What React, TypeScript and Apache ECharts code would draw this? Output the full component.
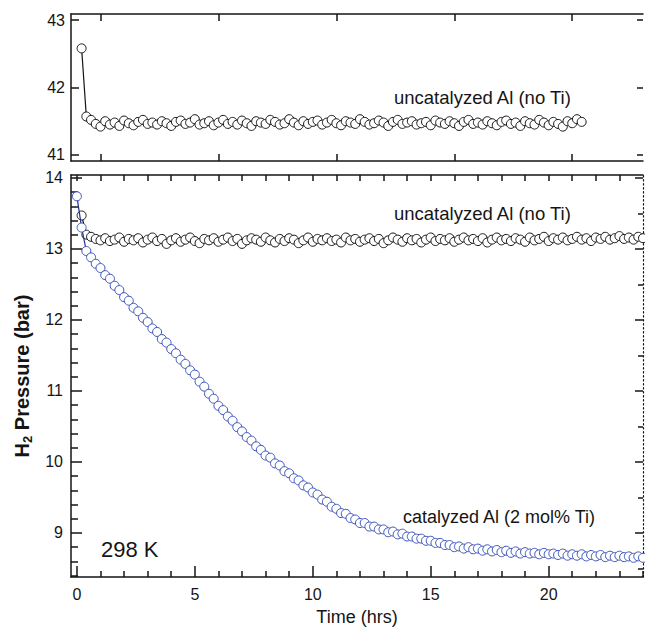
import React, { useEffect, useRef } from "react";
import * as echarts from "echarts";

// Time grid (hrs)
const TIME = [
  0, 0.2, 0.4, 0.6, 0.8, 1.0, 1.2, 1.4, 1.6, 1.8, 2.0, 2.2, 2.4, 2.6, 2.8, 3.0, 3.2, 3.4, 3.6, 3.8,
  4.0, 4.2, 4.4, 4.6, 4.8, 5.0, 5.2, 5.4, 5.6, 5.8, 6.0, 6.2, 6.4, 6.6, 6.8, 7.0, 7.2, 7.4, 7.6, 7.8,
  8.0, 8.2, 8.4, 8.6, 8.8, 9.0, 9.2, 9.4, 9.6, 9.8, 10.0, 10.2, 10.4, 10.6, 10.8, 11.0, 11.2, 11.4, 11.6, 11.8,
  12.0, 12.2, 12.4, 12.6, 12.8, 13.0, 13.2, 13.4, 13.6, 13.8, 14.0, 14.2, 14.4, 14.6, 14.8, 15.0, 15.2, 15.4, 15.6, 15.8,
  16.0, 16.2, 16.4, 16.6, 16.8, 17.0, 17.2, 17.4, 17.6, 17.8, 18.0, 18.2, 18.4, 18.6, 18.8, 19.0, 19.2, 19.4, 19.6, 19.8,
  20.0, 20.2, 20.4, 20.6, 20.8, 21.0, 21.2, 21.4, 21.6, 21.8, 22.0, 22.2, 22.4, 22.6, 22.8, 23.0, 23.2, 23.4, 23.6, 23.8,
  24.0,
];

// Top panel: uncatalyzed Al (no Ti), higher pressure run
const TOP_UNCAT = [
  null, 42.58, 41.57,
  41.52, 41.46, 41.42, 41.50, 41.45, 41.48, 41.43, 41.51, 41.47, 41.44,
  41.49, 41.52, 41.46, 41.48, 41.45, 41.50, 41.47, 41.43, 41.49, 41.51,
  41.46, 41.48, 41.53, 41.45, 41.47, 41.50, 41.44, 41.48, 41.52, 41.46,
  41.49, 41.45, 41.51, 41.47, 41.43, 41.50, 41.48, 41.46, 41.52, 41.49,
  41.45, 41.47, 41.53, 41.48, 41.44, 41.50, 41.46, 41.49, 41.51, 41.45,
  41.48, 41.52, 41.47, 41.44, 41.50, 41.48, 41.46, 41.53, 41.49, 41.45,
  41.47, 41.51, 41.48, 41.43, 41.49, 41.52, 41.46, 41.48, 41.50, 41.45,
  41.47, 41.49, 41.44, 41.51, 41.48, 41.46, 41.50, 41.47, 41.43, 41.49,
  41.52, 41.46, 41.48, 41.45, 41.50, 41.47, 41.44, 41.49, 41.51, 41.46,
  41.48, 41.43, 41.50, 41.47, 41.45, 41.52, 41.48, 41.44, 41.49, 41.46,
  41.42, 41.50, 41.47, 41.53, 41.49,
];

// Bottom panel: uncatalyzed Al (no Ti)
const BOT_UNCAT = [
  null, 13.47, 13.2,
  13.17, 13.14, 13.12, 13.15, 13.11, 13.13, 13.16, 13.10, 13.14, 13.12,
  13.15, 13.09, 13.13, 13.16, 13.11, 13.14, 13.07, 13.12, 13.15, 13.10,
  13.13, 13.16, 13.11, 13.08, 13.14, 13.12, 13.15, 13.10, 13.13, 13.16,
  13.11, 13.14, 13.07, 13.12, 13.15, 13.13, 13.10, 13.16, 13.12, 13.09,
  13.14, 13.11, 13.15, 13.13, 13.08, 13.12, 13.16, 13.10, 13.14, 13.12,
  13.15, 13.11, 13.13, 13.09, 13.16, 13.12, 13.14, 13.10, 13.13, 13.15,
  13.11, 13.14, 13.08, 13.12, 13.16, 13.13, 13.10, 13.15, 13.12, 13.14,
  13.09, 13.13, 13.16, 13.11, 13.14, 13.12, 13.15, 13.10, 13.13, 13.16,
  13.12, 13.14, 13.11, 13.15, 13.09, 13.13, 13.16, 13.12, 13.14, 13.11,
  13.15, 13.13, 13.10, 13.16, 13.12, 13.14, 13.17, 13.11, 13.15, 13.13,
  13.16, 13.12, 13.14, 13.17, 13.13, 13.15, 13.11, 13.16, 13.14, 13.17,
  13.13, 13.15, 13.18, 13.14, 13.16, 13.13, 13.17, 13.15,
];

// Bottom panel: catalyzed Al (2 mol% Ti)
const BOT_CAT = [
  13.74, 13.30, 12.97, 12.88, 12.79, 12.73, 12.63, 12.58, 12.48, 12.42,
  12.32, 12.27, 12.17, 12.12, 12.03, 11.97, 11.88, 11.83, 11.73, 11.68,
  11.59, 11.53, 11.44, 11.38, 11.29, 11.23, 11.13, 11.06, 10.96, 10.89,
  10.79, 10.73, 10.64, 10.58, 10.49, 10.43, 10.35, 10.30, 10.22, 10.17,
  10.09, 10.06, 9.98, 9.95, 9.87, 9.84, 9.77, 9.74, 9.67, 9.64,
  9.57, 9.54, 9.47, 9.44, 9.37, 9.34, 9.28, 9.27, 9.21, 9.19,
  9.14, 9.14, 9.09, 9.09, 9.05, 9.05, 9.01, 9.02, 8.98, 8.99,
  8.95, 8.95, 8.92, 8.92, 8.89, 8.89, 8.86, 8.86, 8.83, 8.83,
  8.80, 8.81, 8.78, 8.80, 8.77, 8.78, 8.75, 8.77, 8.74, 8.76,
  8.73, 8.75, 8.72, 8.74, 8.71, 8.73, 8.71, 8.72, 8.70, 8.72,
  8.70, 8.71, 8.69, 8.71, 8.68, 8.70, 8.68, 8.70, 8.67, 8.69,
  8.67, 8.69, 8.66, 8.68, 8.66, 8.68, 8.66, 8.67, 8.65, 8.67,
  8.65,
];

const TOP_Y_TICKS = [41, 42, 43];
const TOP_X_TICKS = [1, 6, 11, 16, 21];
const BOT_X_MAJOR = [0, 5, 10, 15, 20];
const BOT_X_MINOR = [1, 2, 3, 4, 6, 7, 8, 9, 11, 12, 13, 14, 16, 17, 18, 19, 21, 22, 23, 24];
const BOT_X_TOP = [0, 1, 2, 3, 4, 5, 6, 7, 8, 9, 10, 11, 12, 13, 14, 15, 16, 17, 18, 19, 20, 21, 22, 23];
const BOT_Y_MAJOR = [9, 10, 11, 12, 13, 14];
const BOT_Y_MINOR = [
  8.4, 8.6, 8.8, 9.2, 9.4, 9.6, 9.8, 10.2, 10.4, 10.6, 10.8, 11.2, 11.4, 11.6, 11.8,
  12.2, 12.4, 12.6, 12.8, 13.2, 13.4, 13.6, 13.8,
];
const BOT_Y_HALF = [8.5, 9.5, 10.5, 11.5, 12.5, 13.5];

const FONT = "'Liberation Sans', Arial, Helvetica, sans-serif";
const BLACK = "#151515";
const BLUE = "#3d55bb";
const AXW = 1.5;

function zip(ts: number[], vs: (number | null)[]) {
  const out: [number, number][] = [];
  for (let i = 0; i < Math.min(ts.length, vs.length); i++) {
    const v = vs[i];
    if (v !== null) out.push([ts[i], v]);
  }
  return out;
}

function xAx(grid: number, position: string, ticks: number[], len: number, opts: any = {}) {
  return {
    type: "value",
    gridIndex: grid,
    position,
    min: -0.25,
    max: 24,
    axisLine: { show: opts.line !== false, onZero: false, lineStyle: { color: BLACK, width: AXW } },
    axisTick: { show: true, inside: true, length: len, customValues: ticks, lineStyle: { color: BLACK, width: AXW } },
    axisLabel: opts.labels
      ? { show: true, customValues: opts.labels, color: BLACK, fontSize: 16, fontFamily: FONT, margin: 9 }
      : { show: false },
    splitLine: { show: false },
  };
}

function yAx(grid: number, position: string, min: number, max: number, ticks: number[], len: number, opts: any = {}) {
  return {
    type: "value",
    gridIndex: grid,
    position,
    min,
    max,
    axisLine: {
      show: opts.line !== false,
      onZero: false,
      lineStyle: { color: BLACK, width: opts.dotted ? 1.2 : AXW, type: opts.dotted ? [1.5, 2.5] : "solid" },
    },
    axisTick: { show: true, inside: true, length: len, customValues: ticks, lineStyle: { color: BLACK, width: AXW } },
    axisLabel: opts.labels
      ? { show: true, customValues: opts.labels, color: BLACK, fontSize: 16, fontFamily: FONT, margin: opts.margin ?? 8 }
      : { show: false },
    splitLine: { show: false },
  };
}

export default function App() {
  const ref = useRef<HTMLDivElement>(null);
  useEffect(() => {
    document.body.style.margin = "0";
    if (!ref.current) return;
    const chart = echarts.init(ref.current, null, { renderer: "svg" });
    const symbolStyle = (c: string) => ({ color: "#ffffff", borderColor: c, borderWidth: 1 });
    chart.setOption({
      animation: false,
      backgroundColor: "#ffffff",
      grid: [
        { left: 71, right: 2, top: 14, height: 147, outerBoundsMode: "none" },
        { left: 71, right: 2, top: 175, height: 402, outerBoundsMode: "none" },
      ],
      xAxis: [
        xAx(0, "bottom", TOP_X_TICKS, 7),
        xAx(0, "top", TOP_X_TICKS, 7),
        xAx(1, "bottom", BOT_X_MAJOR, 11, { labels: BOT_X_MAJOR }),
        xAx(1, "bottom", BOT_X_MINOR, 6, { line: false }),
        xAx(1, "top", BOT_X_TOP, 6),
      ],
      yAxis: [
        yAx(0, "left", 40.91, 43.09, TOP_Y_TICKS, 8, { labels: TOP_Y_TICKS, margin: 6 }),
        yAx(0, "right", 40.91, 43.09, TOP_Y_TICKS, 6, { line: false }),
        yAx(1, "left", 8.38, 14.04, BOT_Y_MAJOR, 11, { labels: BOT_Y_MAJOR }),
        yAx(1, "left", 8.38, 14.04, BOT_Y_MINOR, 7, { line: false }),
        yAx(1, "right", 8.38, 14.04, BOT_Y_MAJOR, 8, { dotted: true }),
        yAx(1, "right", 8.38, 14.04, BOT_Y_HALF, 5, { line: false }),
      ],
      series: [
        {
          type: "line",
          xAxisIndex: 0,
          yAxisIndex: 0,
          data: zip(TIME, TOP_UNCAT),
          symbol: "circle",
          symbolSize: 9,
          showSymbol: true,
          itemStyle: symbolStyle(BLACK),
          lineStyle: { color: BLACK, width: 1.2 },
          z: 3,
        },
        {
          type: "line",
          xAxisIndex: 2,
          yAxisIndex: 2,
          data: zip(TIME, BOT_UNCAT),
          symbol: "circle",
          symbolSize: 9,
          showSymbol: true,
          itemStyle: symbolStyle(BLACK),
          lineStyle: { color: BLACK, width: 1.2 },
          z: 3,
        },
        {
          type: "line",
          xAxisIndex: 2,
          yAxisIndex: 2,
          data: zip(TIME, BOT_CAT),
          symbol: "circle",
          symbolSize: 9,
          showSymbol: true,
          itemStyle: symbolStyle(BLUE),
          lineStyle: { color: "#1f2f8a", width: 1.2 },
          z: 4,
        },
      ],
      graphic: [
        {
          type: "text",
          x: 394,
          y: 97,
          style: { text: "uncatalyzed Al (no Ti)", fontSize: 18.5, fontFamily: FONT, fill: BLACK, verticalAlign: "middle" },
        },
        {
          type: "text",
          x: 394,
          y: 213,
          style: { text: "uncatalyzed Al (no Ti)", fontSize: 18.5, fontFamily: FONT, fill: BLACK, verticalAlign: "middle" },
        },
        {
          type: "text",
          x: 403,
          y: 517,
          style: { text: "catalyzed Al (2 mol% Ti)", fontSize: 18, fontFamily: FONT, fill: BLACK, verticalAlign: "middle" },
        },
        {
          type: "text",
          x: 101,
          y: 549,
          style: { text: "298 K", fontSize: 22, fontFamily: FONT, fill: BLACK, verticalAlign: "middle" },
        },
        {
          type: "text",
          x: 357,
          y: 617,
          style: { text: "Time (hrs)", fontSize: 18, fontFamily: FONT, fill: BLACK, align: "center", verticalAlign: "middle" },
        },
        {
          type: "text",
          x: 22,
          y: 376,
          rotation: Math.PI / 2,
          style: {
            text: "H{s|2} Pressure (bar)",
            fontSize: 20,
            fontWeight: "bold",
            fontFamily: FONT,
            fill: BLACK,
            align: "center",
            verticalAlign: "middle",
            lineHeight: 24,
            rich: {
              s: { fontSize: 13, fontWeight: "bold", fontFamily: FONT, fill: BLACK, verticalAlign: "bottom", lineHeight: 13 },
            },
          },
        },
      ],
    });
    return () => chart.dispose();
  }, []);
  return <div ref={ref} style={{ width: 645, height: 627, position: "absolute", left: 0, top: 0 }} />;
}
